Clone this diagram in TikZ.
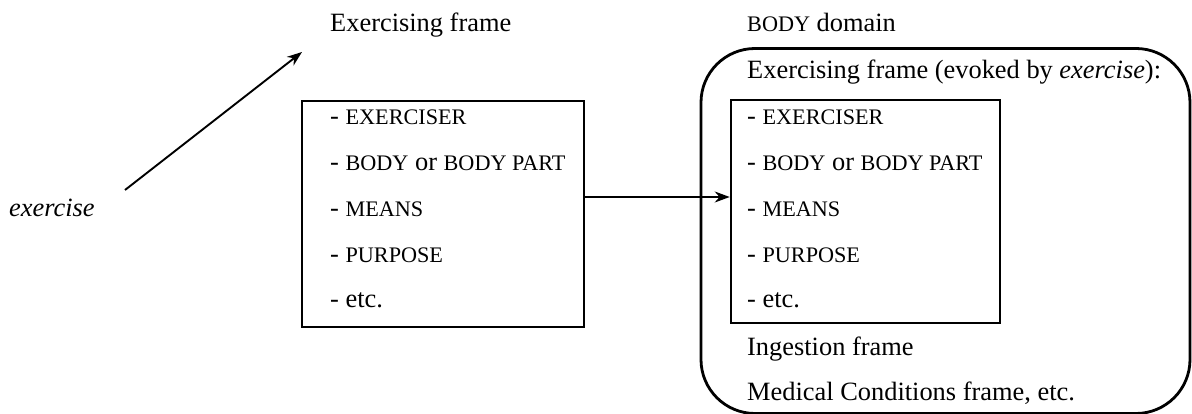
\documentclass[tikz,border=0pt]{standalone}
\usepackage{fontspec}
\setmainfont{Liberation Serif}
\usetikzlibrary{arrows.meta}
% caps set slightly smaller than the running text
\newcommand\smcap[1]{{\fontsize{22.2}{26}\selectfont #1}}
\newcommand\txtsize{\fontsize{26.4}{30}\selectfont}
\tikzset{
  lbl/.style={anchor=base west, inner sep=0pt, font=\txtsize},
  framebox/.style={draw, line width=2.6pt, inner sep=0pt},
  domainbox/.style={draw, line width=2.8pt, rounded corners=54pt, inner sep=0pt},
  arr/.style={line width=1.9pt, -{Stealth[length=15pt,width=11pt]}}
}
\begin{document}
\begin{tikzpicture}[x=1pt,y=-1pt]
\useasboundingbox (0,0) rectangle (1192,414);

% labels above and beside the frames
\node[lbl] (title) at (330,32) {Exercising frame};
\node[lbl] (domain) at (747,32) {\smcap{BODY} domain};
\node[lbl] (word) at (9,217) {\textit{exercise}};

% the frame on its own
\node[framebox, minimum width=282pt, minimum height=226pt] (lbox) at (443,214) {};
\node[lbl] (l1) at (330,125) {- \smcap{EXERCISER}};
\node[lbl] (l2) at (330,171) {- \smcap{BODY} or \smcap{BODY PART}};
\node[lbl] (l3) at (330,217) {- \smcap{MEANS}};
\node[lbl] (l4) at (330,263) {- \smcap{PURPOSE}};
\node[lbl] (l5) at (330,308) {- etc.};

% the domain containing the frame
\node[domainbox, minimum width=489pt, minimum height=365pt] (dom) at (945.5,231) {};
\node[lbl] (evoked) at (747,79) {Exercising frame (evoked by \textit{exercise}):};
\node[framebox, minimum width=269pt, minimum height=223pt] (rbox) at (865.5,211.5) {};
\node[lbl] (r1) at (747,125) {- \smcap{EXERCISER}};
\node[lbl] (r2) at (747,171) {- \smcap{BODY} or \smcap{BODY PART}};
\node[lbl] (r3) at (747,217) {- \smcap{MEANS}};
\node[lbl] (r4) at (747,263) {- \smcap{PURPOSE}};
\node[lbl] (r5) at (747,308) {- etc.};
\node[lbl] (ingest) at (747,355) {Ingestion frame};
\node[lbl] (medical) at (747,400) {Medical Conditions frame, etc.};

% connectors
\coordinate (wstart) at (125,190);
\coordinate (wend) at (302,52);
\draw[arr] (wstart) -- (wend);
\coordinate (ah) at (0,197);
\draw[arr] (lbox.east |- ah) -- (rbox.west |- ah);
\end{tikzpicture}
\end{document}
